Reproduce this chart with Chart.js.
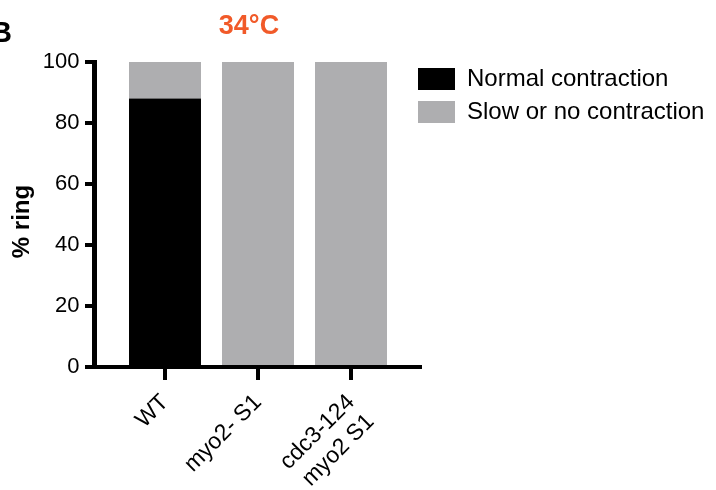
<!DOCTYPE html>
<html>
<head>
<meta charset="utf-8">
<script src="https://cdn.jsdelivr.net/npm/chart.js@4"></script>
<style>
  html, body { margin: 0; padding: 0; background: #fff; }
  #wrap { width: 716px; height: 490px; }
</style>
</head>
<body>
<div id="wrap"><canvas id="myChart" width="716" height="490"></canvas></div>
<script>
const categories = ['WT', 'myo2- S1', ['cdc3-124', 'myo2 S1']];
const normalContraction = [88, 0, 0];
const slowContraction = [12, 100, 100];
const yTicks = [0, 20, 40, 60, 80, 100];

const FONT = "'Liberation Sans', Arial, Helvetica, sans-serif";

// axis lines sit left of the bars like in Prism, so draw them by hand
const prismAxes = {
    id: 'prismAxes',
    afterLayout(chart) {
        const lg = chart.legend;
        const w = lg.right - lg.left, h = lg.bottom - lg.top;
        lg.left = 409; lg.right = lg.left + w;
        lg.top = 58; lg.bottom = lg.top + h;
    },
    afterDraw(chart) {
        const ctx = chart.ctx;
        const ya = chart.scales.y;
        const y0 = ya.getPixelForValue(0);
        const yTop = ya.getPixelForValue(100);
        ctx.save();
        ctx.fillStyle = '#000';
        // y axis + ticks
        ctx.fillRect(92, yTop - 2, 5, y0 - yTop + 4);
        yTicks.forEach(v => {
            ctx.fillRect(85, ya.getPixelForValue(v) - 2, 8, 4);
        });
        // x axis
        ctx.fillRect(85, y0 - 2, 422 - 85, 4);

        // y axis title
        ctx.save();
        ctx.translate(29, 221.5);
        ctx.rotate(-Math.PI / 2);
        ctx.font = 'bold 24px ' + FONT;
        ctx.textAlign = 'center';
        ctx.textBaseline = 'alphabetic';
        ctx.fillText('% ring', 0, 0);
        ctx.restore();

        // panel letter + title
        ctx.font = 'bold 29px ' + FONT;
        ctx.textAlign = 'left';
        ctx.textBaseline = 'alphabetic';
        ctx.fillText('B', -9, 42);
        ctx.fillStyle = '#f15a29';
        ctx.font = 'bold 27px ' + FONT;
        ctx.textAlign = 'center';
        ctx.fillText('34°C', 249, 34);
        ctx.restore();
    }
};

const ctx = document.getElementById('myChart').getContext('2d');
const myChart = new Chart(ctx, {
    type: 'bar',
    data: {
        labels: categories,
        datasets: [{
            label: 'Normal contraction',
            data: normalContraction,
            backgroundColor: '#000000',
            borderWidth: 0,
            categoryPercentage: 1,
            barPercentage: 0.774
        }, {
            label: 'Slow or no contraction',
            data: slowContraction,
            backgroundColor: '#aeaeb0',
            borderWidth: 0,
            categoryPercentage: 1,
            barPercentage: 0.774
        }]
    },
    options: {
        responsive: false,
        animation: false,
        layout: { padding: { top: 62, left: 0, bottom: 0, right: 18.5 } },
        plugins: {
            tooltip: { enabled: false },
            legend: {
                position: 'right',
                align: 'start',
                maxWidth: 300,
                labels: {
                    color: '#000',
                    font: { family: FONT, size: 24 },
                    boxWidth: 37,
                    boxHeight: 22,
                    padding: 9
                }
            }
        },
        scales: {
            x: {
                stacked: true,
                offset: true,
                border: { display: false },
                grid: {
                    display: true,
                    offset: false,
                    drawOnChartArea: false,
                    drawTicks: true,
                    tickLength: 13,
                    lineWidth: 4,
                    color: '#000'
                },
                ticks: {
                    color: '#000',
                    minRotation: 45,
                    maxRotation: 45,
                    padding: 9,
                    font: { family: FONT, size: 23 }
                },
                afterFit: (s) => { s.height = 123; }
            },
            y: {
                stacked: true,
                min: 0,
                max: 100,
                border: { display: false },
                grid: { display: false, drawTicks: false, tickLength: 0 },
                ticks: {
                    stepSize: 20,
                    color: '#000',
                    padding: 39,
                    font: { family: FONT, size: 22 }
                },
                afterFit: (s) => { s.width = 118.5; }
            }
        }
    },
    plugins: [prismAxes]
});
</script>
</body>
</html>
